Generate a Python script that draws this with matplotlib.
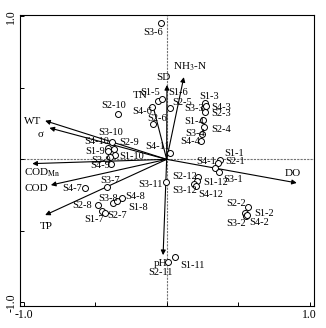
import numpy as np
import matplotlib.pyplot as plt

plt.rcParams['font.family'] = ['Liberation Serif', 'DejaVu Serif']
plt.rcParams['mathtext.fontset'] = 'stix'

# sample scores (RDA axis 1, axis 2)
samples = ["S3-6", "S1-5", "S1-6", "S2-10", "S4-6", "S2-6", "S2-5",
           "S1-3", "S3-3", "S4-3", "S2-3", "S1-4", "S2-4", "S3-4", "S4-4",
           "S4-11", "S1-1", "S2-1", "S4-1", "S3-1",
           "S2-12", "S1-12", "S3-12", "S4-12",
           "S2-2", "S1-2", "S3-2", "S4-2",
           "S3-11", "S2-11", "S1-11",
           "S3-10", "S4-10", "S2-9", "S1-9", "S1-10", "S3-9", "S4-9",
           "S3-7", "S4-7", "S3-8", "S4-8", "S1-8", "S2-8", "S1-7", "S2-7"]
sx = [-0.04, -0.061, -0.033, -0.341, -0.103, -0.096, 0.023,
      0.268, 0.261, 0.275, 0.268, 0.254, 0.261, 0.247, 0.240,
      0.023, 0.373, 0.359, 0.338, 0.366,
      0.219, 0.212, 0.191, 0.205,
      0.569, 0.548, 0.555, 0.562,
      -0.005, 0.009, 0.058,
      -0.383, -0.410, -0.369, -0.410, -0.362, -0.397, -0.390,
      -0.417, -0.571, -0.376, -0.313, -0.348, -0.480, -0.452, -0.431]
sy = [0.953, 0.408, 0.422, 0.317, 0.366, 0.247, 0.359,
      0.394, 0.359, 0.373, 0.331, 0.275, 0.226, 0.177, 0.128,
      0.044, -0.005, -0.026, -0.061, -0.089,
      -0.124, -0.152, -0.173, -0.187,
      -0.334, -0.376, -0.397, -0.390,
      -0.159, -0.719, -0.683,
      0.121, 0.079, 0.072, 0.058, 0.030, 0.016, -0.033,
      -0.194, -0.201, -0.306, -0.271, -0.292, -0.320, -0.362, -0.376]

# environmental variables (arrow tips)
env = ["NH$_3$-N", "SD", "TN", "WT", "σ", "COD$_{\\rm Mn}$", "COD", "TP", "pH", "DO"]
ex = [0.12, 0.002, -0.10, -0.85, -0.82, -0.94, -0.81, -0.85, -0.025, 0.91]
ey = [0.575, 0.52, 0.39, 0.27, 0.22, -0.03, -0.18, -0.39, -0.67, -0.165]

# label offsets in pixels (dx, dy)
lab_off = {
    "S3-6": (-8, -9), "S1-5": (-8, 9), "S1-6": (16, 7), "S2-10": (-4, 9),
    "S4-6": (-10, -4), "S2-6": (4, 6), "S2-5": (12, 6),
    "S1-3": (4, 7), "S3-3": (-10, 0), "S4-3": (15, -1), "S2-3": (16, -1),
    "S1-4": (-9, -1), "S2-4": (17, -2), "S3-4": (-7, 1), "S4-4": (-11, 0),
    "S4-11": (-12, 7), "S1-1": (14, 7), "S2-1": (17, 2), "S4-1": (-9, 7),
    "S3-1": (14, -7), "S2-12": (-13, 1), "S1-12": (19, -1),
    "S3-12": (-9, -6), "S4-12": (15, -8),
    "S2-2": (-12, 4), "S1-2": (19, 0), "S3-2": (-10, -7), "S4-2": (12, -7),
    "S3-11": (-16, -2), "S2-11": (-8, -10), "S1-11": (17, -9),
    "S3-10": (-1, 10), "S4-10": (-11, 7), "S2-9": (15, 7), "S1-9": (-13, 0),
    "S1-10": (17, -1), "S3-9": (-9, -3), "S4-9": (-11, -1),
    "S3-7": (3, 7), "S4-7": (-13, 0), "S3-8": (-5, 5), "S4-8": (13, 2),
    "S1-8": (21, -6), "S2-8": (-16, 0), "S1-7": (-8, -8), "S2-7": (12, -2),
}
env_off = {
    "NH$_3$-N": (6, 10), "SD": (-4, 7), "TN": (-12, 8), "WT": (-13, -1),
    "σ": (-9, -7), "COD$_{\\rm Mn}$": (10, -9), "COD": (-14, -3),
    "TP": (1, -11), "pH": (-3, -8), "DO": (-4, 9),
}

fig = plt.figure(figsize=(3.26, 3.28), dpi=100)
ax = fig.add_axes([0.0613, 0.067, 0.9034, 0.887])
ax.set_xlim(-1.026, 1.034)
ax.set_ylim(-1.026, 1.009)

ax.axhline(0, color='0.45', lw=0.8, ls=(0, (2, 1)), zorder=1)
ax.axvline(0, color='0.45', lw=0.8, ls=(0, (2, 1)), zorder=1)

for name, x, y in zip(env, ex, ey):
    ax.annotate("", xy=(x, y), xytext=(0, 0),
                arrowprops=dict(arrowstyle='-|>', lw=0.8, color='k',
                                mutation_scale=7, shrinkA=0, shrinkB=0),
                zorder=2)
    dx, dy = env_off[name]
    ax.annotate(name, xy=(x, y), xytext=(dx, dy), textcoords='offset pixels',
                ha='center', va='center', fontsize=8, zorder=4)

ax.plot(sx, sy, 'o', ms=4.3, mfc='white', mec='k', mew=0.7, ls='none', zorder=3)
for name, x, y in zip(samples, sx, sy):
    dx, dy = lab_off[name]
    ax.annotate(name, xy=(x, y), xytext=(dx, dy), textcoords='offset pixels',
                ha='center', va='center', fontsize=7.5, zorder=4)

ax.set_xticks([-1.0, -0.5, 0, 0.5, 1.0])
ax.set_xticklabels(["-1.0", "", "", "", "1.0"])
ax.set_yticks([-1.0, -0.5, 0, 0.5, 1.0])
ax.set_yticklabels(["-1.0", "", "", "", "1.0"], rotation=90, va='center')
ax.tick_params(direction='in', length=3, width=0.7, labelsize=8.5, pad=2)
for s in ax.spines.values():
    s.set_linewidth(0.8)

fig.savefig("out.png", dpi=100)
